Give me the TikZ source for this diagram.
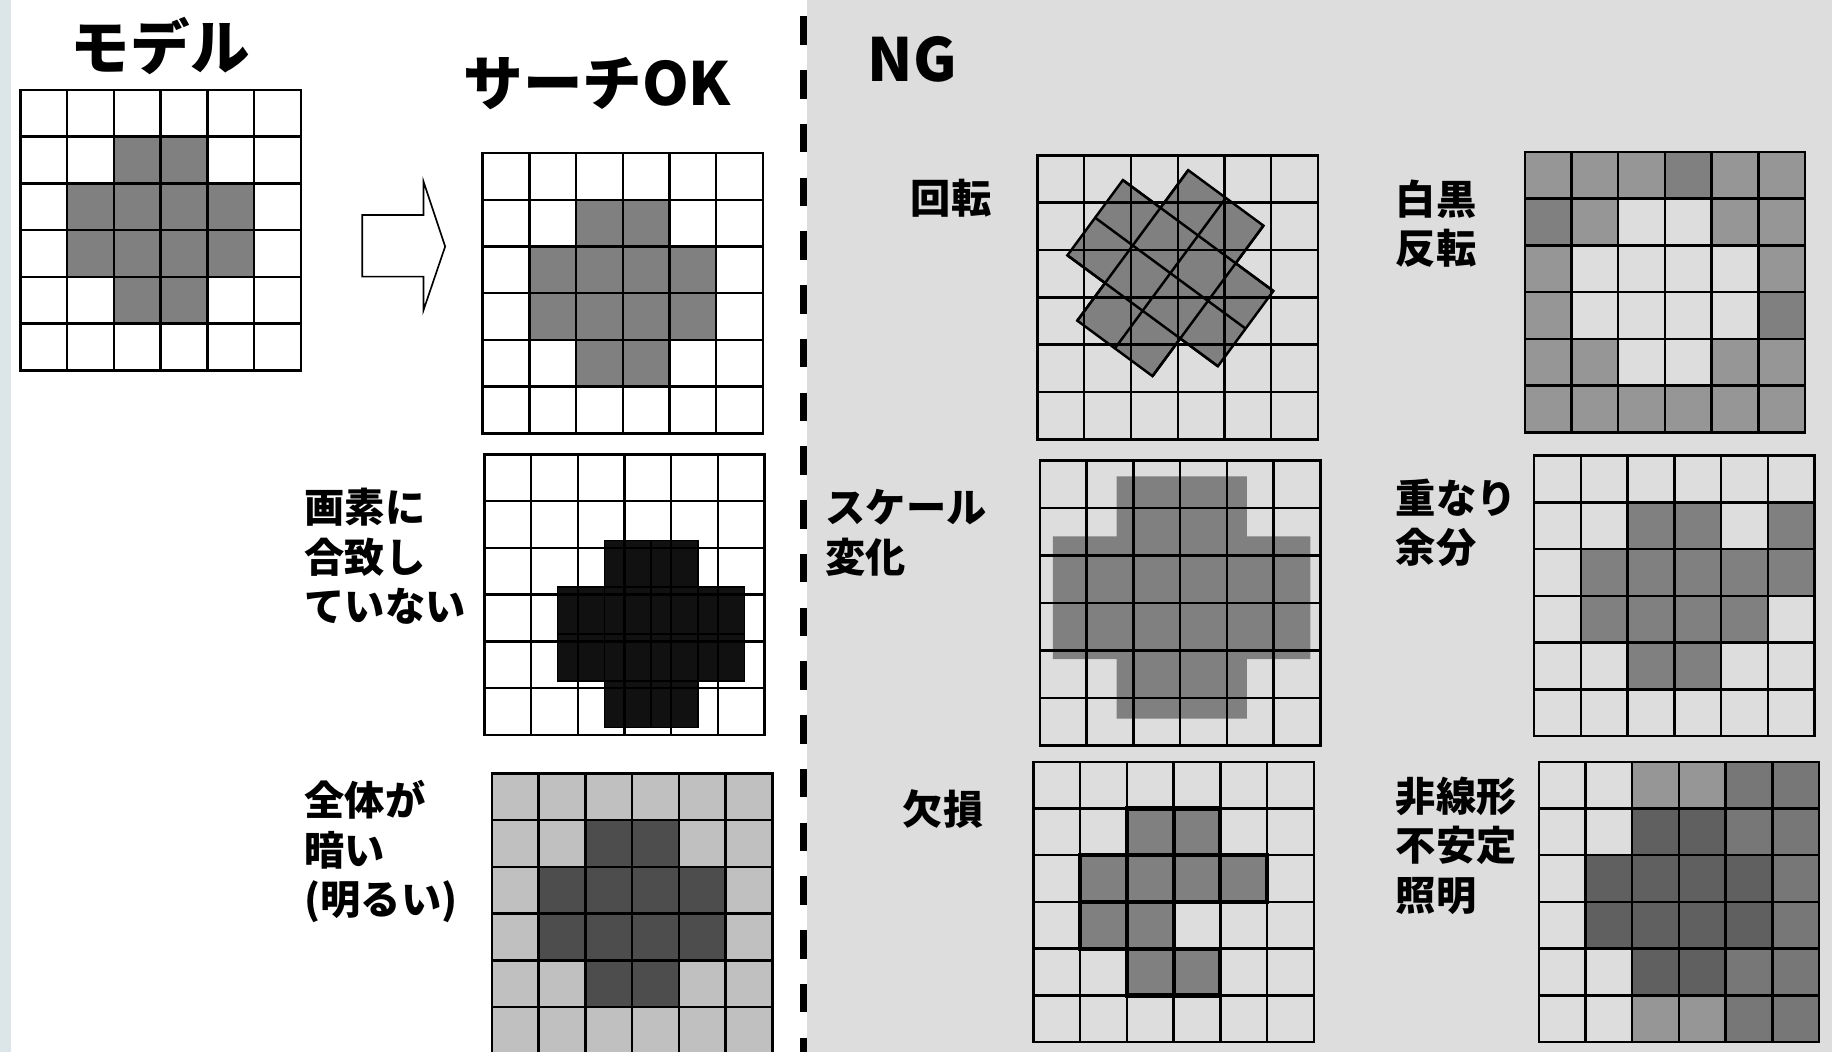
\documentclass[tikz,border=0pt]{standalone}
\usepackage{fontspec}
\newfontfamily\jpfont{Noto Sans CJK JP}
\usepackage{tikz}

\definecolor{panelgray}{HTML}{DDDDDD}
\definecolor{stripblue}{HTML}{DCE5E8}
\definecolor{cellgray}{HTML}{808080}
\definecolor{midgray}{HTML}{969696}
\definecolor{lightcell}{HTML}{C0C0C0}
\definecolor{darkcell}{HTML}{4D4D4D}
\definecolor{deepgray}{HTML}{606060}
\definecolor{edgegray}{HTML}{777777}
\definecolor{nearblack}{HTML}{111111}

\def\crosscells{2/1,3/1,1/2,2/2,3/2,4/2,1/3,2/3,3/3,4/3,2/4,3/4}
% 6x6 grid of the current scope (cell = 1 unit)
\newcommand{\cellgrid}{%
	\foreach \i in {1,...,5} {
		\draw[gridline] (\i,0) -- (\i,6);
		\draw[gridline] (0,\i) -- (6,\i);
	}
	\draw[gridline] (0,0) rectangle (6,6);
}

\tikzset{
	gridline/.style={draw=black, line width=0.6pt},
	heading/.style={font=\jpfont\bfseries\fontsize{14.5}{17}\selectfont, anchor=north west, inner sep=0pt},
	desc/.style={font=\jpfont\bfseries\fontsize{9.8}{12.1}\selectfont, align=left, anchor=north west, inner sep=0pt},
	cellunits/.style={x=0.4cm, y=-0.4cm}
}

\begin{document}
\begin{tikzpicture}
	\useasboundingbox (0,0) rectangle (15.68,9);
	% Background
	\fill[white] (0,0) rectangle (6.91,9);
	\fill[stripblue] (0,0) rectangle (0.09,9);
	\fill[panelgray] (6.91,0) rectangle (15.68,9);
	\draw[line width=1.7pt, dash pattern=on 0.245cm off 0.215cm] (6.875,8.86) -- (6.875,0);

	% Headings
	\node[heading] (model) at (0.60,8.86) {モデル};
	\node[heading] (searchok) at (3.96,8.52) {サーチOK};
	\node[heading] (ng) at (7.42,8.70) {NG};

	% Model
	\begin{scope}[shift={(0.175,8.23)}, cellunits]
		\foreach \c/\r in \crosscells \fill[cellgray] (\c,\r) rectangle ++(1,1);
		\cellgrid
	\end{scope}

	% Arrow
	\draw[fill=white, line width=0.4pt] (3.10,7.16) -- (3.625,7.16) -- (3.625,7.445) -- (3.81,6.89) -- (3.625,6.346) -- (3.625,6.632) -- (3.10,6.632) -- cycle;

	% Search OK
	\begin{scope}[shift={(4.13,7.69)}, cellunits]
		\foreach \c/\r in \crosscells \fill[cellgray] (\c,\r) rectangle ++(1,1);
		\cellgrid
	\end{scope}

	% Pixels not matching
	\node[desc] (nomatch) at (2.60,4.83) {画素に\\合致し\\ていない};
	\begin{scope}[shift={(4.145,5.11)}, cellunits]
		\begin{scope}[shift={(0.57,0.84)}]
			\foreach \c/\r in \crosscells \filldraw[fill=nearblack, draw=black, line width=0.4pt] (\c,\r) rectangle ++(1,1);
		\end{scope}
		\cellgrid
	\end{scope}

	% Dark overall
	\node[desc] (dark) at (2.60,2.33) {全体が\\暗い\\(明るい)};
	\begin{scope}[shift={(4.21,2.38)}, cellunits]
		\fill[lightcell] (0,0) rectangle (6,6);
		\foreach \c/\r in \crosscells \fill[darkcell] (\c,\r) rectangle ++(1,1);
		\cellgrid
	\end{scope}

	% Rotation
	\node[desc] (rotation) at (7.79,7.47) {回転};
	\begin{scope}[shift={(10.017,6.662)}, rotate=-36.4, x=0.4cm, y=0.4cm]
		\filldraw[fill=cellgray, draw=black, line width=0.6pt] (-1,2) -- (1,2) -- (1,1) -- (2,1) -- (2,-1) -- (1,-1) -- (1,-2) -- (-1,-2) -- (-1,-1) -- (-2,-1) -- (-2,1) -- (-1,1) -- cycle;
		\foreach \i in {-1,0,1} {
			\draw[gridline] (\i,-2) -- (\i,2);
			\draw[gridline] (-2,\i) -- (2,\i);
		}
	\end{scope}
	\begin{scope}[shift={(8.88,7.67)}, x=0.4cm, y=-0.405cm]
		\cellgrid
	\end{scope}

	% Inverted
	\node[desc] (inverted) at (11.94,7.47) {白黒\\反転};
	\begin{scope}[shift={(13.05,7.70)}, cellunits]
		\fill[midgray] (0,0) rectangle (6,6);
		\foreach \c/\r in {3/0,0/1,5/3} \fill[cellgray] (\c,\r) rectangle ++(1,1);
		\foreach \c/\r in \crosscells \fill[panelgray] (\c,\r) rectangle ++(1,1);
		\cellgrid
	\end{scope}

	% Scale
	\node[desc] (scale) at (7.06,4.82) {スケール\\変化};
	\begin{scope}[shift={(8.90,5.06)}, x=0.4cm, y=-0.407cm]
		\fill[cellgray] (1.64,0.335) -- (4.43,0.335) -- (4.43,1.6) -- (5.79,1.6) -- (5.79,4.18) -- (4.43,4.18) -- (4.43,5.43) -- (1.64,5.43) -- (1.64,4.18) -- (0.28,4.18) -- (0.28,1.6) -- (1.64,1.6) -- cycle;
		\cellgrid
	\end{scope}

	% Overlap
	\node[desc] (overlap) at (11.94,4.91) {重なり\\余分};
	\begin{scope}[shift={(13.13,5.10)}, cellunits]
		\foreach \c/\r in \crosscells \fill[cellgray] (\c,\r) rectangle ++(1,1);
		\foreach \c/\r in {5/1,5/2} \fill[cellgray] (\c,\r) rectangle ++(1,1);
		\cellgrid
	\end{scope}

	% Missing
	\node[desc] (missing) at (7.72,2.25) {欠損};
	\begin{scope}[shift={(8.845,2.48)}, cellunits]
		\cellgrid
		\foreach \c/\r in {2/1,3/1,1/2,2/2,3/2,4/2,1/3,2/3,2/4,3/4} \filldraw[fill=cellgray, draw=black, line width=1pt] (\c,\r) rectangle ++(1,1);
	\end{scope}

	% Nonlinear lighting
	\node[desc] (lighting) at (11.94,2.36) {非線形\\不安定\\照明};
	\begin{scope}[shift={(13.17,2.48)}, cellunits]
		\foreach \c/\r in {4/0,5/0,4/1,5/1,5/2,5/3,4/4,5/4,4/5,5/5} \fill[edgegray] (\c,\r) rectangle ++(1,1);
		\foreach \c/\r in {2/0,3/0,2/5,3/5} \fill[midgray] (\c,\r) rectangle ++(1,1);
		\foreach \c/\r in \crosscells \fill[deepgray] (\c,\r) rectangle ++(1,1);
		\cellgrid
	\end{scope}
\end{tikzpicture}
\end{document}
